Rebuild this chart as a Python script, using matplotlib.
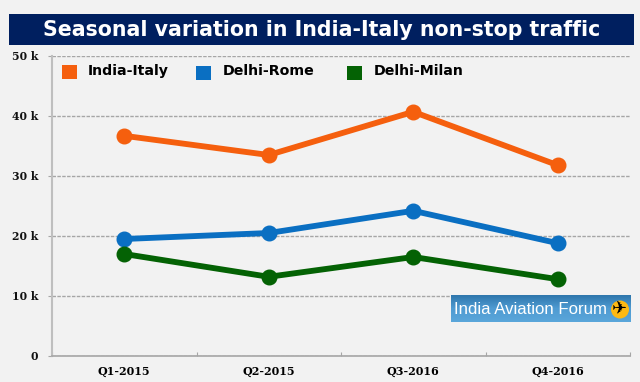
import numpy as np
import matplotlib
matplotlib.use('Agg')
import matplotlib.pyplot as plt
from matplotlib.patches import Rectangle, Circle

quarters = ['Q1-2015', 'Q2-2015', 'Q3-2016', 'Q4-2016']
india_italy = [36.7, 33.5, 40.7, 31.8]
delhi_rome = [19.5, 20.5, 24.2, 18.8]
delhi_milan = [17.0, 13.2, 16.5, 12.8]
y_ticks = [0, 10, 20, 30, 40, 50]
y_labels = ['0', '10 k', '20 k', '30 k', '40 k', '50 k']
title = 'Seasonal variation in India-Italy non-stop traffic'
badge_text = 'India Aviation Forum'

W, H = 640, 382
BG = '#f2f2f2'
ORANGE = '#f55f0e'
BLUE = '#0a6fc2'
GREEN = '#046204'


def px(x, y, w=0, h=0):
    '''Converts pixel box from the top left corner to figure fractions'''
    return [x / W, 1 - (y + h) / H, w / W, h / H]


fig = plt.figure(figsize=(W / 100, H / 100), dpi=100, facecolor=BG)

# title bar
bar = px(9, 14, 625, 31)
fig.patches.append(Rectangle(bar[:2], bar[2], bar[3], transform=fig.transFigure,
                             facecolor='#001f5f', edgecolor='none'))
fig.text(322 / W, 1 - 30 / H, title, color='white', fontsize=14.8,
         fontweight='bold', ha='center', va='center', family='DejaVu Sans')

# chart
ax = fig.add_axes(px(52, 56, 578, 300))
ax.set_facecolor(BG)
x = np.arange(len(quarters))
for values, color in [(india_italy, ORANGE), (delhi_rome, BLUE), (delhi_milan, GREEN)]:
    ax.plot(x, values, color=color, lw=4.2, marker='o', ms=10.5, solid_joinstyle='round')

ax.set_xlim(-0.5, 3.5)
ax.set_ylim(0, 50)
ax.set_yticks(y_ticks)
ax.set_yticklabels(y_labels, family='DejaVu Serif', fontweight='bold', fontsize=7.8)
ax.set_xticks(np.arange(-0.5, 4, 1))
ax.set_xticklabels([])
ax.set_xticks(x, minor=True)
ax.set_xticklabels(quarters, minor=True, family='DejaVu Serif', fontweight='bold', fontsize=8)
ax.tick_params(axis='x', which='major', length=3, color='#a6a6a6', direction='in')
ax.tick_params(axis='x', which='minor', length=0, pad=7)
ax.tick_params(axis='y', length=3, color='#a6a6a6', pad=7, labelcolor='#111111')
ax.grid(axis='y', color='#a6a6a6', ls=(0, (2.5, 1)), lw=1)
ax.set_axisbelow(True)
for s in ['top', 'right']:
    ax.spines[s].set_visible(False)
ax.spines['left'].set_color('#bfbfbf')
ax.spines['left'].set_linewidth(1.5)
ax.spines['bottom'].set_color('#a6a6a6')
ax.spines['bottom'].set_linewidth(1.2)

# legend
for name, color, sx, sy, tx in [('India-Italy', ORANGE, 62, 65, 88), ('Delhi-Rome', BLUE, 196, 66, 223),
                                ('Delhi-Milan', GREEN, 347, 66, 374)]:
    box = px(sx, sy, 15, 14)
    fig.patches.append(Rectangle(box[:2], box[2], box[3], transform=fig.transFigure,
                                 facecolor=color, edgecolor='none'))
    fig.text(tx / W, 1 - 71 / H, name, color='black', fontsize=10.2, fontweight='bold',
             ha='left', va='center', family='DejaVu Sans')

# badge
bax = fig.add_axes(px(451, 295, 180, 27), zorder=5)
grad = np.linspace(0, 1, 27).reshape(-1, 1)
bax.imshow(grad, aspect='auto', cmap=matplotlib.colors.LinearSegmentedColormap.from_list(
    'sky', ['#2f77ad', '#4f9bd2', '#5aa6da']), extent=[0, 180, 27, 0])
bax.axis('off')
bax.text(3, 14.5, badge_text, color='white', fontsize=12.1, va='center', ha='left',
         family='Liberation Sans')
bax.add_patch(Circle((169, 14.5), 9, facecolor='#fdb913', edgecolor='none'))
bax.text(169, 14.5, '\u2708', color='black', fontsize=13, ha='center', va='center',
         family='DejaVu Sans')
bax.set_xlim(0, 180)
bax.set_ylim(27, 0)

fig.savefig('out.png', dpi=100, facecolor=BG)
